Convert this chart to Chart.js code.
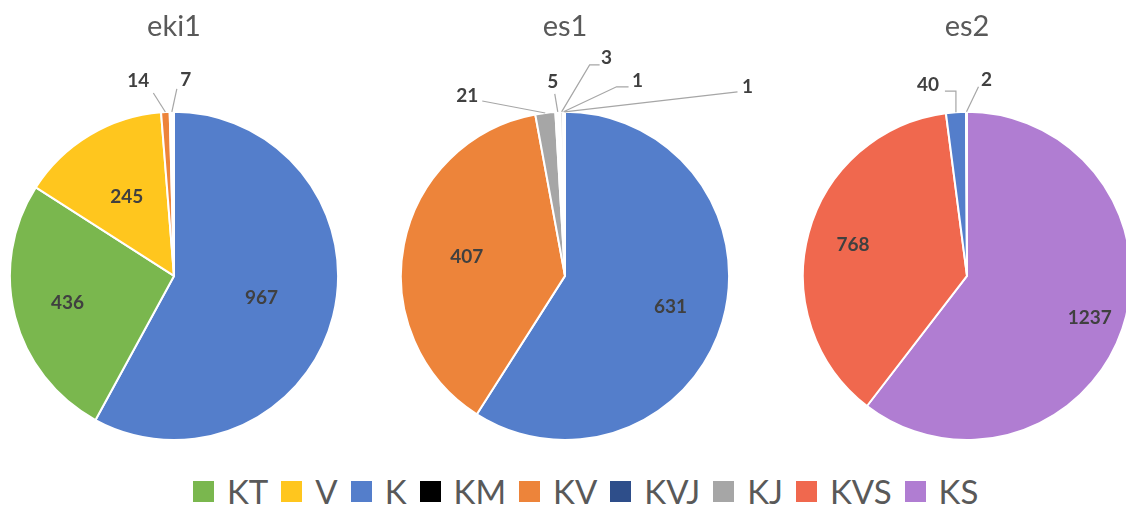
<!DOCTYPE html>
<html>
<head>
<meta charset="utf-8">
<script src="https://cdn.jsdelivr.net/npm/chart.js@4.4.1/dist/chart.umd.min.js"></script>
<style>
    html, body { margin: 0; padding: 0; background: #fff; }
    body {
        width: 1126px; height: 506px; position: relative; overflow: hidden;
        font-family: Lato, "Open Sans", sans-serif;
    }
    .pie { position: absolute; top: 0; width: 332px; height: 441px; }
    #legend {
        position: absolute; left: 193px; top: 470px; height: 42px;
        display: flex; align-items: center; white-space: nowrap;
        color: #595959; font-size: 33px; line-height: 42px;
    }
    #legend .item { display: flex; align-items: center; margin-right: 13px; }
    #legend .box { width: 21px; height: 21px; margin-right: 13px; }
</style>
</head>
<body>
<div class="pie" style="left:8px"><canvas id="pie-eki1"></canvas></div>
<div class="pie" style="left:399px; width:372px"><canvas id="pie-es1"></canvas></div>
<div class="pie" style="left:801px"><canvas id="pie-es2"></canvas></div>
<div id="legend"></div>

<script>
// legend categories
const categories = ["KT", "V", "K", "KM", "KV", "KVJ", "KJ", "KVS", "KS"];
const legendColors = ["#7ab74e", "#ffc61e", "#547ecb", "#000000", "#ed843a", "#2e4e8a", "#a6a6a6", "#f0684e", "#b07dd2"];

// slices, clockwise from 12 o'clock
const eki1Labels = ["K", "KT", "V", "KV", "KM"];
const eki1Values = [967, 436, 245, 14, 7];

const es1Labels = ["K", "KV", "KJ", "KM", "KVJ", "KVS", "KS"];
const es1Values = [631, 407, 21, 5, 3, 1, 1];

const es2Labels = ["KS", "KVS", "K", "KM"];
const es2Values = [1237, 768, 40, 2];

const FONT = "Lato, 'Open Sans', sans-serif";

function colorOf(name) {
    return legendColors[categories.indexOf(name)];
}

// tiny slices look white in the original
const eki1Colors = eki1Labels.map((n, i) => (eki1Values[i] < 10 ? "#ffffff" : colorOf(n)));
const es1Colors = es1Labels.map((n, i) => (es1Values[i] < 10 ? (i === 4 ? "#d9d9d9" : "#ffffff") : colorOf(n)));
const es2Colors = es2Labels.map((n, i) => (es2Values[i] < 10 ? "#ffffff" : colorOf(n)));

// value labels: inside at a radius ratio, or outside with a leader line
const sliceLabels = {
    id: "sliceLabels",
    afterDatasetsDraw(chart, args, opts) {
        const ctx = chart.ctx;
        const meta = chart.getDatasetMeta(0);
        const values = chart.data.datasets[0].data;
        ctx.save();
        ctx.font = "bold 19px " + FONT;
        ctx.fillStyle = "#404040";
        ctx.textAlign = "center";
        ctx.textBaseline = "middle";
        meta.data.forEach((arc, i) => {
            const p = arc.getProps(["x", "y", "startAngle", "endAngle", "outerRadius"], true);
            const mid = (p.startAngle + p.endAngle) / 2;
            const out = opts.outside.find((o) => o.i === i);
            if (out) {
                const ex = p.x + Math.cos(mid) * p.outerRadius;
                const ey = p.y + Math.sin(mid) * p.outerRadius;
                const px = ex + out.dx, py = ey + out.dy;
                const qx = px + (out.tail || 0);
                ctx.strokeStyle = "#a6a6a6";
                ctx.lineWidth = 1.2;
                ctx.beginPath();
                ctx.moveTo(ex, ey);
                ctx.lineTo(px, py);
                ctx.lineTo(qx, py);
                ctx.stroke();
                ctx.fillText(values[i], qx + out.tx, py + out.ty);
            } else {
                const f = opts.radius[i] || 0.65;
                ctx.fillText(values[i], p.x + Math.cos(mid) * p.outerRadius * f, p.y + Math.sin(mid) * p.outerRadius * f);
            }
        });
        ctx.restore();
    },
};

function makePie(id, title, labels, values, colors, radius, outside, padRight) {
    return new Chart(document.getElementById(id), {
        type: "pie",
        data: {
            labels: labels,
            datasets: [{
                data: values,
                backgroundColor: colors,
                borderColor: "#ffffff",
                borderWidth: 2,
            }],
        },
        options: {
            responsive: true,
            maintainAspectRatio: false,
            animation: false,
            layout: { padding: { left: 0, right: padRight || 0, top: 0, bottom: 0 } },
            plugins: {
                legend: { display: false },
                tooltip: { enabled: false },
                title: {
                    display: true,
                    text: title,
                    color: "#595959",
                    font: { family: FONT, size: 29, weight: "normal" },
                    padding: { top: 9, bottom: 67 },
                },
                sliceLabels: { radius: radius, outside: outside },
            },
        },
        plugins: [sliceLabels],
    });
}

makePie("pie-eki1", "eki1", eki1Labels, eki1Values, eki1Colors, [0.55, 0.67, 0.56], [
    { i: 3, dx: -12, dy: -19, tx: -15, ty: -12 },
    { i: 4, dx: 5, dy: -23, tx: 9, ty: -9 },
]);

makePie("pie-es1", "es1", es1Labels, es1Values, es1Colors, [0.67, 0.61], [
    { i: 2, dx: -63, dy: -12, tx: -15, ty: -5 },
    { i: 3, dx: -3, dy: -18, tx: -2, ty: -12 },
    { i: 4, dx: 28, dy: -47, tail: 10, tx: 7, ty: -7 },
    { i: 5, dx: 53, dy: -25, tail: 12, tx: 9, ty: -6 },
    { i: 6, dx: 173, dy: -20, tx: 10, ty: -5 },
], 40);

makePie("pie-es2", "es2", es2Labels, es2Values, es2Colors, [0.79, 0.72], [
    { i: 2, dx: 0, dy: -21, tail: -11, tx: -17, ty: -6 },
    { i: 3, dx: 12, dy: -25, tx: 8, ty: -7 },
]);

// shared legend
const legend = document.getElementById("legend");
categories.forEach((name, i) => {
    const item = document.createElement("div");
    item.className = "item";
    item.innerHTML = `<span class="box" style="background:${legendColors[i]}"></span><span>${name}</span>`;
    legend.appendChild(item);
});
</script>
</body>
</html>
